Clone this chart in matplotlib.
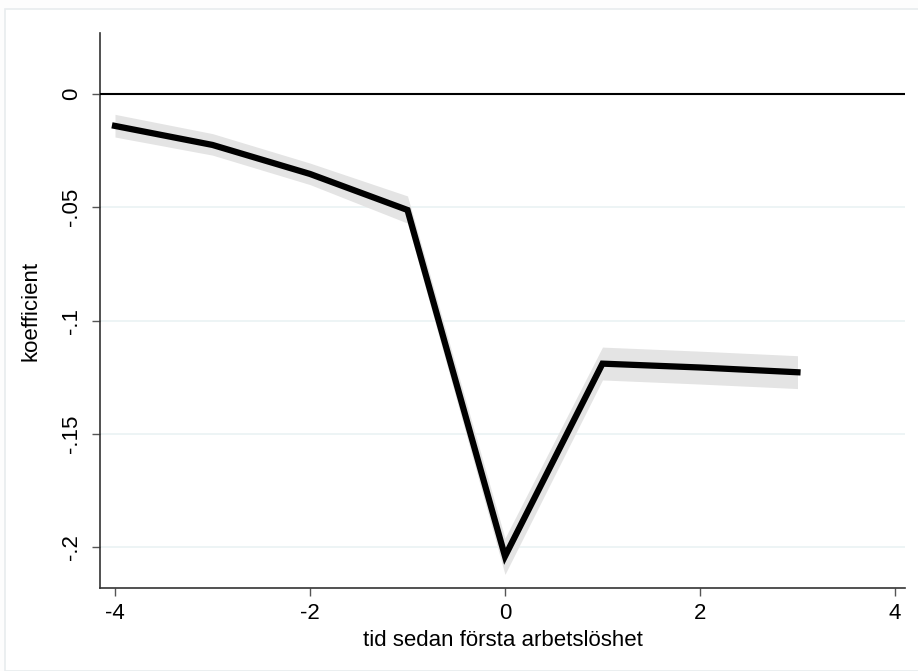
import numpy as np
import matplotlib.pyplot as plt
from matplotlib.patches import Rectangle

plt.rcParams['font.family'] = ['Liberation Sans', 'DejaVu Sans']

# data
tid = [-4, -3, -2, -1, 0, 1, 2, 3]
koef = [-0.0141, -0.0225, -0.0353, -0.0512, -0.2040, -0.1190, -0.1207, -0.1228]
ci_lo = [-0.0190, -0.0270, -0.0400, -0.0570, -0.2120, -0.1262, -0.1280, -0.1300]
ci_hi = [-0.0090, -0.0175, -0.0305, -0.0450, -0.1960, -0.1117, -0.1135, -0.1155]

xticks = [-4, -2, 0, 2, 4]
xlabels = ['-4', '-2', '0', '2', '4']
yticks = [0, -0.05, -0.1, -0.15, -0.2]
ylabels = ['0', '-.05', '-.1', '-.15', '-.2']

fig = plt.figure(figsize=(9.18, 6.71), dpi=100)
fig.patches.append(Rectangle((5 / 918, 0), 1.0, 1 - 9 / 671, transform=fig.transFigure,
                             facecolor='white', edgecolor='#e8ecee', lw=1.2, zorder=-1))
ax = fig.add_axes([100 / 918, 1 - 588 / 671, 805 / 918, 555 / 671])

ax.fill_between(tid, ci_lo, ci_hi, color='#e4e4e4', lw=0, zorder=2)
ax.plot(tid, koef, color='black', lw=4.5, zorder=3, solid_joinstyle='miter')
ax.axhline(0, color='black', lw=1.5, zorder=4)

for y in yticks[1:]:
    ax.axhline(y, color='#eaf2f3', lw=1.2, zorder=1)

ax.set_xlim(-4.154, 4.103)
ax.set_ylim(-0.218, 0.0269)
ax.set_xticks(xticks)
ax.set_xticklabels(xlabels)
ax.set_yticks(yticks)
ax.set_yticklabels(ylabels, rotation=90, va='center')

for s in ['top', 'right']:
    ax.spines[s].set_visible(False)
for s in ['left', 'bottom']:
    ax.spines[s].set_color('#333333')
    ax.spines[s].set_linewidth(1.2)
ax.tick_params(axis='both', length=6, width=1, color='#555555', labelsize=16, pad=5)
ax.tick_params(axis='y', pad=7)

ax.set_xlabel('tid sedan första arbetslöshet', fontsize=16, labelpad=4)
ax.set_ylabel('koefficient', fontsize=16, labelpad=14)

fig.savefig('out.png', dpi=100, facecolor='#fdfdfd')
